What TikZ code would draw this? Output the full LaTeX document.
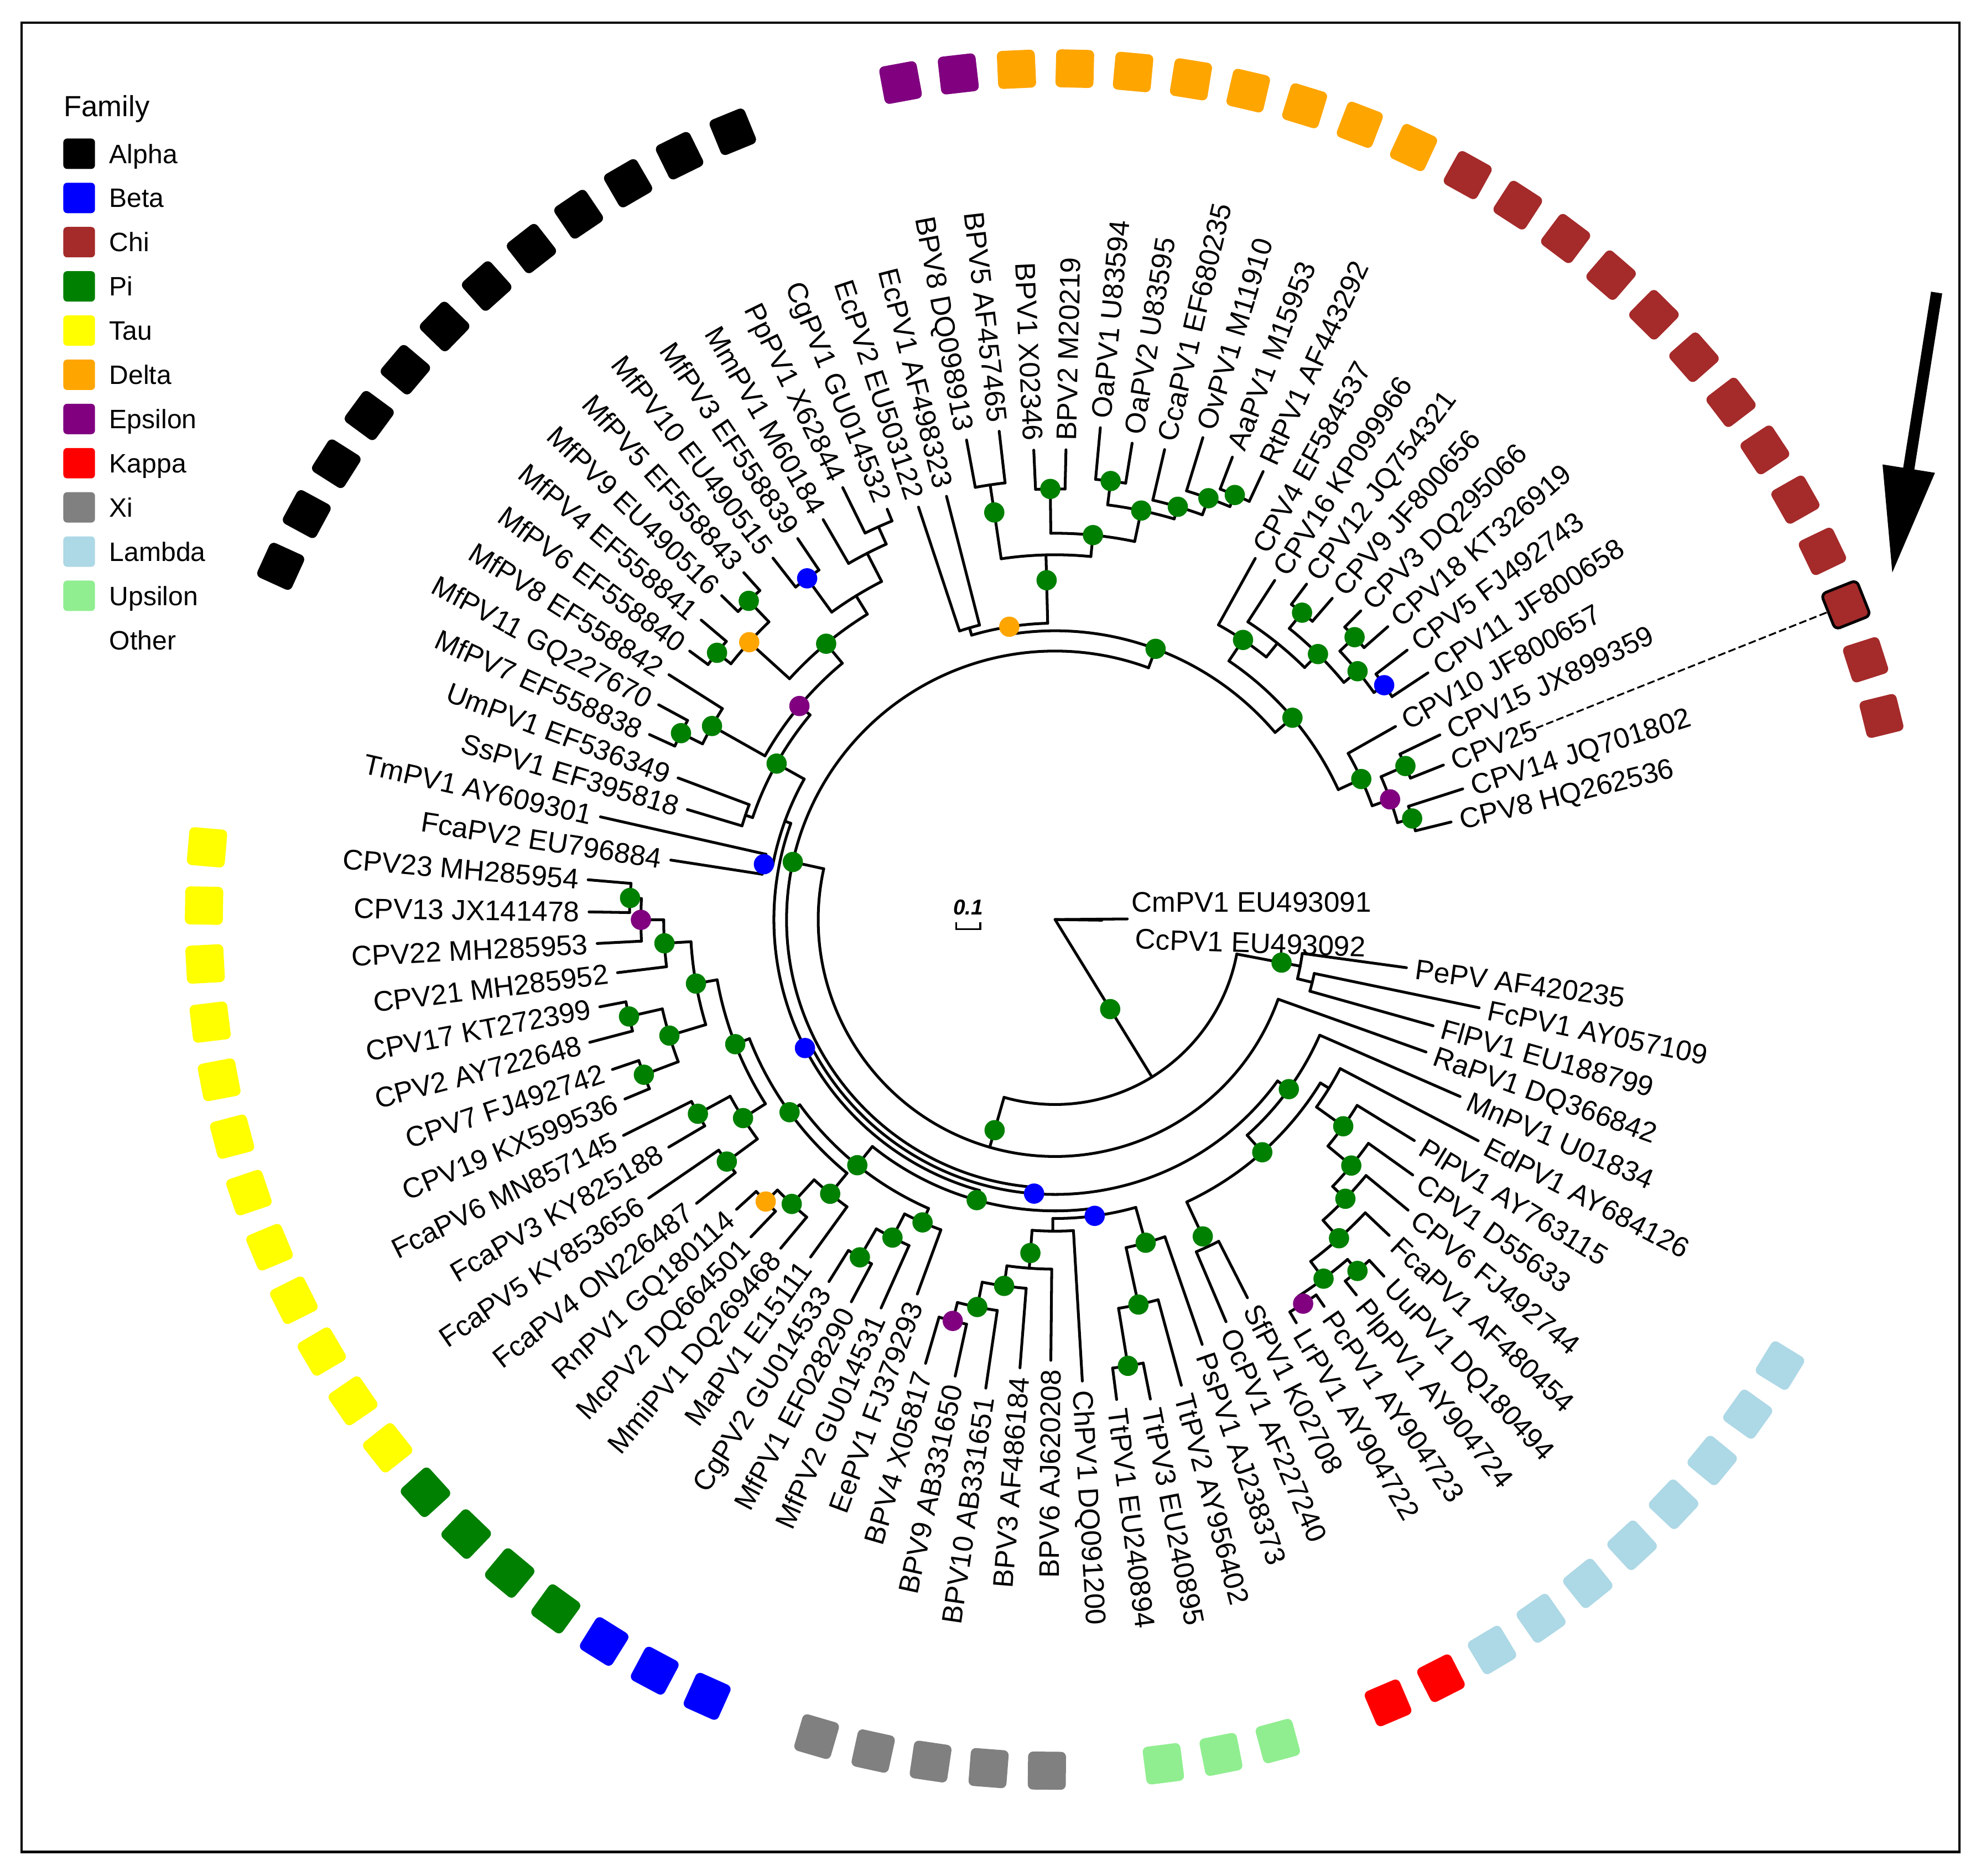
\documentclass[tikz,border=0pt]{standalone}
\usepackage{fontspec}
\setmainfont{Liberation Sans}
\definecolor{chi}{HTML}{A52A2A}
\definecolor{pig}{HTML}{008000}
\definecolor{tau}{HTML}{FFFF00}
\definecolor{delta}{HTML}{FFA500}
\definecolor{eps}{HTML}{800080}
\definecolor{kappa}{HTML}{FF0000}
\definecolor{xig}{HTML}{808080}
\definecolor{lam}{HTML}{ADD8E6}
\definecolor{ups}{HTML}{90EE90}
\definecolor{bet}{HTML}{0000FF}
\newcommand\inode[5]{%
 \draw[br] ({#1}:{#2}) -- ({#1}:{#3});
 \draw[br] ({#4}:{#3}) arc[start angle={#4}, end angle={#5}, radius={#3}];}
\newcommand\tipn[5]{%
 \draw[br] ({#2}:{#3}) -- ({#2}:{#4});
 \pgfmathsetmacro\tipc{cos(#2)}%
 \pgfmathsetmacro\tipr{#2+180}%
 \ifdim\tipc pt<0pt
  \node[lab,anchor=east,rotate=\tipr] (#1) at ({#2}:{#4+7}) {#5};
 \else
  \node[lab,anchor=west,rotate=#2] (#1) at ({#2}:{#4+7}) {#5};
 \fi}
\newcommand\ndot[3]{\fill[#1] ({#2}:{#3}) circle[radius=8];}
\newcommand\ringsq[2]{%
 \pgfmathsetmacro\sqa{ifthenelse(#1<22, 61-3.93*(#1-1), -31.6-3.93*(#1-22))}%
 \node[sqr,fill=#2,rotate=\sqa] (s#1) at (\sqa:672) {};}
\begin{document}
\begin{tikzpicture}[x=0.5pt,y=0.5pt,
 br/.style={line width=1.1pt, line cap=round, line join=round},
 lab/.style={font=\fontsize{11.2}{13}\selectfont, inner sep=0pt, text height=8pt, text depth=0pt},
 legt/.style={font=\fontsize{10.5}{12}\selectfont, inner sep=0pt, text height=7.5pt, text depth=0pt},
 sqr/.style={minimum size=15pt, inner sep=0pt, rounded corners=2pt},
 leg/.style={minimum width=12.5pt, minimum height=12pt, inner sep=0pt, rounded corners=1.5pt},
 dsh/.style={line width=0.7pt, dash pattern=on 3pt off 1.3pt}]
\useasboundingbox (0,0) rectangle (1568,1481);
\fill[white] (0,0) rectangle (1568,1481);
\draw[line width=1pt] (17,19) rectangle (1547,1463);
% legend
\node[legt,anchor=west,font=\fontsize{11.5}{13}\selectfont] (famT) at (50,1396.5) {Family};
\foreach \nm/\cl [count=\i from 0] in {Alpha/black,Beta/bet,Chi/chi,Pi/pig,Tau/tau,Delta/delta,Epsilon/eps,Kappa/kappa,Xi/xig,Lambda/lam,Upsilon/ups}{
 \node[leg,fill=\cl] (lg\i) at (62.5,{1359.6-34.9*\i}) {};
 \node[legt,anchor=west] (lt\i) at (86,{1359.6-34.9*\i}) {\nm};}
\node[legt,anchor=west] (lt11) at (86,{1359.6-34.9*11}) {Other};
% arrow
\fill (1524.6,1250.7) -- (1502.6,1111.7) -- (1486.3,1114.3) -- (1494,1029) -- (1527.7,1107.7) -- (1511.4,1110.3) -- (1533.4,1249.3) -- cycle;
\begin{scope}[shift={(833,755)}]
% outgroup and root
\draw[br] (0,0) -- (57,0.5);
\draw[br] (0,0) -- (37,-0.5);
\node[lab,anchor=west] (t14) at (60,14) {CmPV1 EU493091};
\node[lab,anchor=west,rotate=-2] (t15) at (63,-15) {CcPV1 EU493092};
\node[font=\fontsize{8.5}{10}\selectfont\bfseries\itshape,inner sep=0pt] (sc) at (-68.5,9.5) {0.1};
\draw[line width=0.8pt] (-78,-2) -- (-78,-7.5) -- (-59,-7.5) -- (-59,-2);
\inode{-58.39}{0}{146}{-10.76}{-106.015}
% A
\inode{-10.76}{146}{197}{-7.80}{-13.725}
\tipn{t16}{-7.80}{197}{280}{PePV AF420235}
\inode{-13.725}{197}{209}{-11.75}{-15.70}
\tipn{t17}{-11.75}{209}{342}{FcPV1 AY057109}
\tipn{t18}{-15.70}{209}{310}{FlPV1 EU188799}
% B
\inode{-106.015}{146}{187}{-19.65}{-192.38}
\tipn{t19}{-19.65}{187}{311}{RaPV1 DQ366842}
% D
\inode{-192.38}{187}{212}{-94.385}{-290.37}
% G
\inode{-290.37}{212}{228}{-261.11}{-319.63}
\inode{-261.11}{228}{234}{-253.645}{-268.57}
\inode{-253.645}{234}{240}{-251.68}{-255.61}
\tipn{t78}{-251.68}{240}{343}{EcPV2 EU503122}
\tipn{t79}{-255.61}{240}{345}{EcPV1 AF498323}
\inode{-268.57}{234}{288}{-261.505}{-275.63}
\inode{-261.505}{288}{347}{-259.54}{-263.47}
\tipn{t80}{-259.54}{347}{385}{BPV8 DQ098913}
\tipn{t81}{-263.47}{347}{388}{BPV5 AF457465}
\inode{-275.63}{288}{305}{-269.365}{-281.89}
\inode{-269.365}{305}{340}{-267.40}{-271.33}
\tipn{t82}{-267.40}{340}{371}{BPV1 X02346}
\tipn{t83}{-271.33}{340}{371}{BPV2 M20219}
\inode{-281.89}{305}{330}{-277.225}{-286.56}
\inode{-277.225}{330}{349}{-275.26}{-279.19}
\tipn{t84}{-275.26}{349}{390}{OaPV1 U83594}
\tipn{t85}{-279.19}{349}{381}{OaPV2 U83595}
\inode{-286.56}{330}{340}{-283.12}{-290.0}
\tipn{t86}{-283.12}{340}{381}{CcaPV1 EF680235}
\inode{-290.0}{340}{354}{-287.05}{-292.945}
\tipn{t87}{-287.05}{354}{398}{OvPV1 M11910}
\inode{-292.945}{354}{364}{-290.98}{-294.91}
\tipn{t88}{-290.98}{364}{391}{AaPV1 M15953}
\tipn{t89}{-294.91}{364}{390}{RtPV1 AF443292}
% Chi
\inode{-319.63}{228}{246}{-303.91}{-335.35}
\inode{-303.91}{246}{266}{-299.00}{-308.825}
\tipn{t1}{-299.00}{266}{326}{CPV4 EF584537}
\inode{-308.825}{266}{280}{-302.93}{-314.72}
\tipn{t2}{-302.93}{280}{319}{CPV16 KP099966}
\inode{-314.72}{280}{295}{-308.825}{-320.615}
\inode{-308.825}{295}{311}{-306.86}{-310.79}
\tipn{t3}{-306.86}{311}{331}{CPV12 JQ754321}
\tipn{t4}{-310.79}{311}{335}{CPV9 JF800656}
\inode{-320.615}{295}{309}{-316.685}{-324.545}
\inode{-316.685}{309}{325}{-314.72}{-318.65}
\tipn{t5}{-314.72}{325}{343}{CPV3 DQ295066}
\tipn{t6}{-318.65}{325}{350}{CPV18 KT326919}
\inode{-324.545}{309}{319}{-322.58}{-326.51}
\tipn{t7}{-322.58}{319}{350}{CPV5 FJ492743}
\tipn{t8}{-326.51}{319}{353}{CPV11 JF800658}
\inode{-335.35}{246}{266}{-330.44}{-340.265}
\tipn{t9}{-330.44}{266}{309}{CPV10 JF800657}
\inode{-340.265}{266}{281}{-336.335}{-344.195}
\inode{-336.335}{281}{302}{-334.37}{-338.30}
\tipn{t10}{-334.37}{302}{337}{CPV15 JX899359}
\tipn{t11}{-338.30}{302}{330}{CPV25}
\inode{-344.195}{281}{293}{-342.23}{-346.16}
\tipn{t12}{-342.23}{293}{338}{CPV14 JQ701802}
\tipn{t13}{-346.16}{293}{322}{CPV8 HQ262536}
% H
\inode{-94.385}{212}{217}{-35.96}{-152.81}
\inode{-35.96}{217}{228}{-23.60}{-48.315}
\tipn{t20}{-23.60}{228}{349}{MnPV1 U01834}
\inode{-48.315}{228}{246}{-31.625}{-65.005}
\inode{-31.625}{246}{254}{-27.60}{-35.65}
\tipn{t21}{-27.60}{254}{377}{EdPV1 AY684126}
\inode{-35.65}{254}{280}{-31.60}{-39.705}
\tipn{t22}{-31.60}{280}{333}{PlPV1 AY763115}
\inode{-39.705}{280}{304}{-35.53}{-43.88}
\tipn{t23}{-35.53}{304}{347}{CPV1 D55633}
\inode{-43.88}{304}{318}{-39.46}{-48.30}
\tipn{t24}{-39.46}{318}{361}{CPV6 FJ492744}
\inode{-48.30}{318}{337}{-43.39}{-53.215}
\tipn{t25}{-43.39}{337}{363}{FcaPV1 AF480454}
\inode{-53.215}{337}{354}{-49.285}{-57.145}
\inode{-49.285}{354}{366}{-47.32}{-51.25}
\tipn{t26}{-47.32}{366}{383}{UuPV1 DQ180494}
\tipn{t27}{-51.25}{366}{380}{PlpPV1 AY904724}
\inode{-57.145}{354}{361}{-55.18}{-59.11}
\tipn{t28}{-55.18}{361}{372}{PcPV1 AY904723}
\tipn{t29}{-59.11}{361}{371}{LrPV1 AY904722}
\inode{-65.005}{246}{285}{-63.04}{-66.97}
\tipn{t30}{-63.04}{285}{335}{SfPV1 K02708}
\tipn{t31}{-66.97}{285}{345}{OcPV1 AF227240}
% HL
\inode{-152.81}{217}{222}{-105.61}{-200.01}
\inode{-105.61}{222}{230}{-82.385}{-128.84}
\inode{-82.385}{230}{236}{-74.34}{-90.43}
\inode{-74.34}{236}{265}{-70.90}{-77.78}
\tipn{t32}{-70.90}{265}{355}{PsPV1 AJ238373}
\inode{-77.78}{265}{311}{-74.83}{-80.725}
\tipn{t33}{-74.83}{311}{381}{TtPV2 AY956402}
\inode{-80.725}{311}{357}{-78.76}{-82.69}
\tipn{t34}{-78.76}{357}{386}{TtPV3 EU240895}
\tipn{t35}{-82.69}{357}{382}{TtPV1 EU240894}
\inode{-90.43}{236}{246}{-86.62}{-94.235}
\tipn{t36}{-86.62}{246}{365}{ChPV1 DQ091200}
\inode{-94.235}{246}{276}{-90.55}{-97.92}
\tipn{t37}{-90.55}{276}{348}{BPV6 AJ620208}
\inode{-97.92}{276}{292}{-94.48}{-101.36}
\tipn{t38}{-94.48}{292}{355}{BPV3 AF486184}
\inode{-101.36}{292}{312}{-98.41}{-104.305}
\tipn{t39}{-98.41}{312}{374}{BPV10 AB331651}
\inode{-104.305}{312}{327}{-102.34}{-106.27}
\tipn{t40}{-102.34}{327}{369}{BPV9 AB331650}
\tipn{t41}{-106.27}{327}{365}{BPV4 X05817}
\inode{-128.84}{230}{249}{-113.64}{-144.035}
\inode{-113.64}{249}{261}{-110.20}{-117.08}
\tipn{t42}{-110.20}{261}{315}{EePV1 FJ379293}
\inode{-117.08}{261}{282}{-114.13}{-120.025}
\tipn{t43}{-114.13}{282}{336}{MfPV2 GU014531}
\inode{-120.025}{282}{308}{-118.06}{-121.99}
\tipn{t44}{-118.06}{308}{342}{MfPV1 EF028290}
\tipn{t45}{-121.99}{308}{337}{CgPV2 GU014533}
\inode{-144.035}{249}{259}{-129.36}{-158.71}
\inode{-129.36}{259}{280}{-125.92}{-132.80}
\tipn{t46}{-125.92}{280}{329}{MaPV1 E15111}
\inode{-132.80}{280}{306}{-129.85}{-135.745}
\tipn{t47}{-129.85}{306}{338}{MmiPV1 DQ269468}
\inode{-135.745}{306}{319}{-133.78}{-137.71}
\tipn{t48}{-133.78}{319}{347}{McPV2 DQ664501}
\tipn{t49}{-137.71}{319}{340}{RnPV1 GQ180114}
\inode{-158.71}{259}{271}{-147.535}{-169.89}
\inode{-147.535}{271}{292}{-143.605}{-151.465}
\inode{-143.605}{292}{322}{-141.64}{-145.57}
\tipn{t50}{-141.64}{322}{361}{FcaPV4 ON226487}
\tipn{t51}{-145.57}{322}{389}{FcaPV5 KY853656}
\inode{-151.465}{292}{321}{-149.50}{-153.43}
\tipn{t52}{-149.50}{321}{354}{FcaPV3 KY825188}
\tipn{t53}{-153.43}{321}{381}{FcaPV6 MN857145}
\inode{-169.89}{271}{288}{-163.255}{-176.52}
\inode{-163.255}{288}{318}{-159.325}{-167.185}
\inode{-159.325}{318}{347}{-157.36}{-161.29}
\tipn{t54}{-157.36}{347}{368}{CPV19 KX599536}
\tipn{t55}{-161.29}{347}{369}{CPV7 FJ492742}
\inode{-167.185}{318}{345}{-165.22}{-169.15}
\tipn{t56}{-165.22}{345}{380}{CPV2 AY722648}
\tipn{t57}{-169.15}{345}{366}{CPV17 KT272399}
\inode{-176.52}{288}{309}{-173.08}{-179.96}
\tipn{t58}{-173.08}{309}{348}{CPV21 MH285952}
\inode{-179.96}{309}{327}{-177.01}{-182.905}
\tipn{t59}{-177.01}{327}{362}{CPV22 MH285953}
\inode{-182.905}{327}{336}{-180.94}{-184.87}
\tipn{t60}{-180.94}{336}{368}{CPV13 JX141478}
\tipn{t61}{-184.87}{336}{370}{CPV23 MH285954}
\inode{-200.01}{222}{227}{-190.765}{-209.25}
\inode{-190.765}{227}{234}{-188.80}{-192.73}
\tipn{t62}{-188.80}{234}{307}{FcaPV2 EU796884}
\tipn{t63}{-192.73}{234}{368}{TmPV1 AY609301}
\inode{-209.25}{227}{252}{-198.625}{-219.87}
\inode{-198.625}{252}{258}{-196.66}{-200.59}
\tipn{t64}{-196.66}{258}{303}{SsPV1 EF395818}
\tipn{t65}{-200.59}{258}{318}{UmPV1 EF536349}
\inode{-219.87}{252}{263}{-209.43}{-230.31}
\inode{-209.43}{263}{311}{-206.485}{-212.38}
\inode{-206.485}{311}{330}{-204.52}{-208.45}
\tipn{t66}{-204.52}{330}{352}{MfPV7 EF558838}
\tipn{t67}{-208.45}{330}{356}{MfPV11 GQ227670}
\tipn{t68}{-212.38}{311}{361}{MfPV8 EF558842}
\inode{-230.31}{263}{283}{-222.205}{-238.42}
\inode{-222.205}{283}{326}{-218.275}{-226.135}
\inode{-218.275}{326}{340}{-216.31}{-220.24}
\tipn{t69}{-216.31}{340}{358}{MfPV6 EF558840}
\tipn{t70}{-220.24}{340}{366}{MfPV4 EF558841}
\inode{-226.135}{326}{349}{-224.17}{-228.10}
\tipn{t71}{-224.17}{349}{367}{MfPV9 EU490516}
\tipn{t72}{-228.10}{349}{368}{MfPV5 EF558843}
\inode{-238.42}{283}{300}{-233.995}{-242.84}
\inode{-233.995}{300}{333}{-232.03}{-235.96}
\tipn{t73}{-232.03}{333}{362}{MfPV10 EU490515}
\tipn{t74}{-235.96}{333}{363}{MfPV3 EF558839}
\inode{-242.84}{300}{325}{-239.89}{-245.785}
\tipn{t75}{-239.89}{325}{365}{MmPV1 M60184}
\inode{-245.785}{325}{340}{-243.82}{-247.75}
\tipn{t76}{-243.82}{340}{380}{PpPV1 X62844}
\tipn{t77}{-247.75}{340}{350}{CgPV1 GU014532}
% node dots
\ndot{pig}{-58.39}{83}\ndot{pig}{-10.76}{182}\ndot{pig}{-106.015}{173}
\ndot{pig}{-192.38}{212}\ndot{pig}{-290.37}{228}\ndot{delta}{-261.11}{234}
\ndot{pig}{-268.57}{268}\ndot{pig}{-261.505}{325}\ndot{pig}{-275.63}{305}
\ndot{pig}{-269.365}{340}\ndot{pig}{-281.89}{330}\ndot{pig}{-277.225}{349}
\ndot{pig}{-286.56}{340}\ndot{pig}{-290.0}{354}\ndot{pig}{-292.945}{364}
\ndot{pig}{-319.63}{246}\ndot{pig}{-303.91}{266}\ndot{pig}{-314.72}{295}
\ndot{pig}{-308.825}{311}\ndot{pig}{-320.615}{309}\ndot{pig}{-316.685}{325}
\ndot{bet}{-324.545}{319}\ndot{pig}{-335.35}{266}\ndot{eps}{-340.265}{281}
\ndot{pig}{-336.335}{302}\ndot{pig}{-344.195}{293}
\ndot{bet}{-94.385}{217}\ndot{pig}{-35.96}{228}\ndot{pig}{-48.315}{246}
\ndot{pig}{-65.005}{276}\ndot{pig}{-35.65}{280}\ndot{pig}{-39.705}{304}
\ndot{pig}{-43.88}{318}\ndot{pig}{-48.30}{337}\ndot{pig}{-53.215}{354}
\ndot{pig}{-49.285}{366}\ndot{eps}{-57.145}{361}
\ndot{bet}{-152.81}{222}\ndot{pig}{-105.61}{230}\ndot{bet}{-82.385}{236}
\ndot{pig}{-74.34}{265}\ndot{pig}{-77.78}{311}\ndot{pig}{-80.725}{357}
\ndot{pig}{-94.235}{264}\ndot{pig}{-97.92}{292}\ndot{pig}{-101.36}{312}
\ndot{eps}{-104.305}{327}
\ndot{pig}{-128.84}{249}\ndot{pig}{-113.64}{261}\ndot{pig}{-117.08}{282}
\ndot{pig}{-120.025}{308}\ndot{pig}{-144.035}{259}\ndot{pig}{-129.36}{280}
\ndot{pig}{-132.80}{306}\ndot{delta}{-135.745}{319}\ndot{pig}{-158.71}{271}
\ndot{pig}{-147.535}{292}\ndot{pig}{-143.605}{322}\ndot{pig}{-151.465}{321}
\ndot{pig}{-169.89}{288}\ndot{pig}{-163.255}{318}\ndot{pig}{-159.325}{347}
\ndot{pig}{-167.185}{345}\ndot{pig}{-176.52}{309}\ndot{eps}{-179.96}{327}
\ndot{pig}{-182.905}{336}
\ndot{bet}{-190.765}{234}\ndot{pig}{-209.25}{252}\ndot{eps}{-219.87}{263}
\ndot{pig}{-209.43}{311}\ndot{pig}{-206.485}{330}\ndot{pig}{-230.31}{283}
\ndot{delta}{-222.205}{326}\ndot{pig}{-218.275}{340}\ndot{pig}{-226.135}{349}
\ndot{bet}{-233.995}{333}
% ring of family squares
\foreach \k in {1,...,13}{\ringsq{\k}{chi}}
\foreach \k in {22,...,29}{\ringsq{\k}{lam}}
\foreach \k in {30,31}{\ringsq{\k}{kappa}}
\foreach \k in {33,34,35}{\ringsq{\k}{ups}}
\foreach \k in {37,...,41}{\ringsq{\k}{xig}}
\foreach \k in {43,44,45}{\ringsq{\k}{bet}}
\foreach \k in {46,...,49}{\ringsq{\k}{pig}}
\foreach \k in {50,...,61}{\ringsq{\k}{tau}}
\foreach \k in {66,...,77}{\ringsq{\k}{black}}
\foreach \k in {80,81}{\ringsq{\k}{eps}}
\foreach \k in {82,...,89}{\ringsq{\k}{delta}}
\node[sqr,draw=black,line width=1.1pt,rotate=21.7] (s11b) at (s11.center) {};
\draw[dsh] (t11.east) -- (s11);
\end{scope}
\end{tikzpicture}
\end{document}
